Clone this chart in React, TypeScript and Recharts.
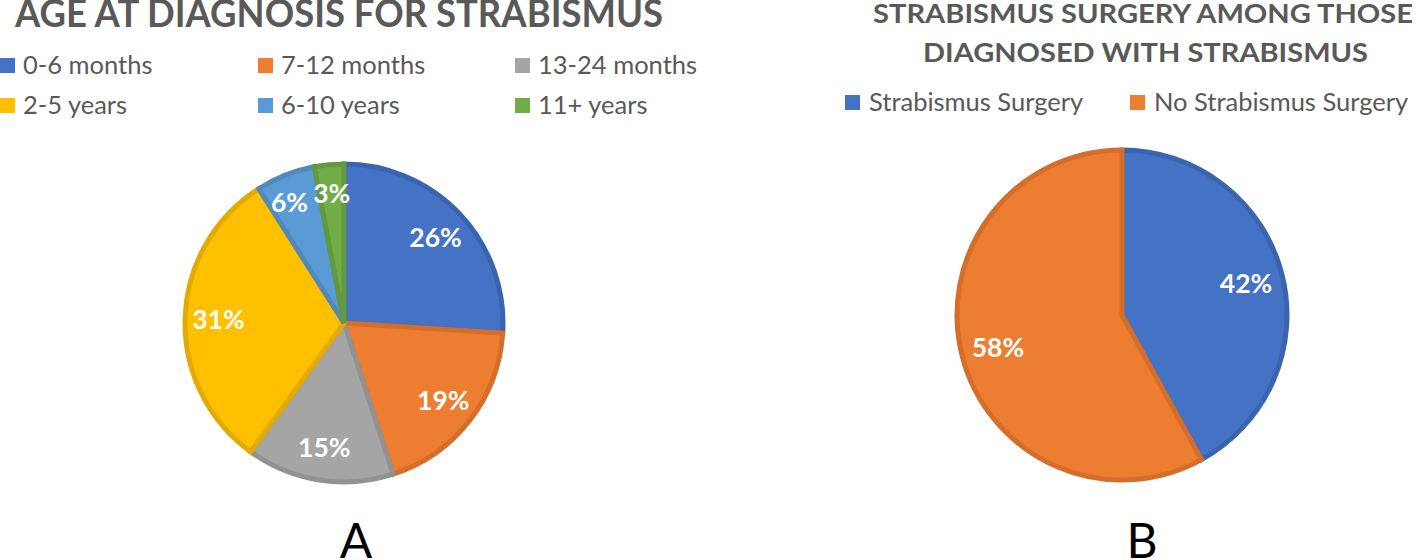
import React from "react";
import { PieChart, Pie, Cell, Legend } from "recharts";

// left chart: age at diagnosis
const ageCategories = [
  "0-6 months",
  "7-12 months",
  "13-24 months",
  "2-5 years",
  "6-10 years",
  "11+ years",
];
const ageValues = [26, 19, 15, 31, 6, 3];
const ageFills = ["#4472C4", "#ED7D31", "#A5A5A5", "#FFC000", "#5B9BD5", "#70AD47"];
const ageBorders = ["#3B64AE", "#D46E2A", "#929292", "#E3AB00", "#4F89BE", "#62993D"];

// right chart: surgery
const surgeryCategories = ["Strabismus Surgery", "No Strabismus Surgery"];
const surgeryValues = [42, 58];
const surgeryFills = ["#4472C4", "#ED7D31"];
const surgeryBorders = ["#3B64AE", "#D46E2A"];

const ageData = ageCategories.map((name, i) => ({ name, value: ageValues[i] }));
const surgeryData = surgeryCategories.map((name, i) => ({
  name,
  value: surgeryValues[i],
}));

const FONT = "Lato, 'Open Sans', sans-serif";
const GREY = "#595959";

function makeLabel(frac: number) {
  return (props: any) => {
    const RADIAN = Math.PI / 180;
    const cx = Number(props.cx) || 0;
    const cy = Number(props.cy) || 0;
    const small = props.percent < 0.1;
    const r = (Number(props.outerRadius) || 0) * (small ? frac + 0.03 : frac);
    let x = cx + r * Math.cos(-props.midAngle * RADIAN);
    const y = cy + r * Math.sin(-props.midAngle * RADIAN);
    let anchor: "middle" | "end" = "middle";
    // thin slices on the left: push label outward so it clears its neighbour
    if (small && x - cx < -30) {
      anchor = "end";
      x += 12;
    }
    return (
      <text
        x={x}
        y={y}
        fill="#ffffff"
        textAnchor={anchor}
        dominantBaseline="central"
        style={{ fontFamily: FONT, fontWeight: 700, fontSize: 26.5 }}
      >
        {Math.round(props.percent * 100)}%
      </text>
    );
  };
}

const AgeLegend = () => {
  const cols = [0, 258, 515];
  const rows = [58, 98];
  return (
    <svg width={708} height={130}>
      {ageCategories.map((name, i) => {
        const x = cols[i % 3];
        const y = rows[Math.floor(i / 3)];
        return (
          <g key={name}>
            <rect x={x} y={y} width={15} height={15} fill={ageFills[i]} />
            <text
              x={x + 23}
              y={y + 16}
              fill={GREY}
              style={{ fontFamily: FONT, fontSize: 25.5 }}
            >
              {name}
            </text>
          </g>
        );
      })}
    </svg>
  );
};

const SurgeryLegend = () => {
  // relative to the right chart's left edge (708)
  const xs = [137, 422];
  return (
    <svg width={709} height={130}>
      {surgeryCategories.map((name, i) => (
        <g key={name}>
          <rect x={xs[i]} y={95} width={15} height={15} fill={surgeryFills[i]} />
          <text
            x={xs[i] + 24}
            y={111}
            fill={GREY}
            style={{ fontFamily: FONT, fontSize: 25.5 }}
          >
            {name}
          </text>
        </g>
      ))}
    </svg>
  );
};

export default function App() {
  return (
    <div
      style={{
        position: "absolute",
        left: 0,
        top: 0,
        width: 1417,
        height: 560,
        background: "#fff",
        overflow: "hidden",
      }}
    >
      <div style={{ position: "absolute", left: 0, top: 0 }}>
        <PieChart width={708} height={560} margin={{ top: 0, right: 0, bottom: 0, left: 0 }}>
          <Pie
            data={ageData}
            dataKey="value"
            nameKey="name"
            cx={344}
            cy={323}
            outerRadius={159}
            startAngle={90}
            endAngle={-270}
            label={makeLabel(0.79)}
            labelLine={false}
            isAnimationActive={false}
          >
            {ageData.map((d, i) => (
              <Cell key={d.name} fill={ageFills[i]} stroke={ageBorders[i]} strokeWidth={5} />
            ))}
          </Pie>
          <Legend
            content={() => <AgeLegend />}
            wrapperStyle={{ position: "absolute", top: 0, left: 0, width: 708, height: 130 }}
          />
        </PieChart>
      </div>

      <div style={{ position: "absolute", left: 708, top: 0 }}>
        <PieChart width={709} height={560} margin={{ top: 0, right: 0, bottom: 0, left: 0 }}>
          <Pie
            data={surgeryData}
            dataKey="value"
            nameKey="name"
            cx={414}
            cy={315}
            outerRadius={165}
            startAngle={90}
            endAngle={-270}
            label={makeLabel(0.776)}
            labelLine={false}
            isAnimationActive={false}
          >
            {surgeryData.map((d, i) => (
              <Cell key={d.name} fill={surgeryFills[i]} stroke={surgeryBorders[i]} strokeWidth={5} />
            ))}
          </Pie>
          <Legend
            content={() => <SurgeryLegend />}
            wrapperStyle={{ position: "absolute", top: 0, left: 0, width: 709, height: 130 }}
          />
        </PieChart>
      </div>

      {/* titles and panel letters */}
      <svg
        width={1417}
        height={560}
        style={{ position: "absolute", left: 0, top: 0, pointerEvents: "none" }}
      >
        <text
          x={15}
          y={27}
          fill={GREY}
          textLength={648}
          lengthAdjust="spacingAndGlyphs"
          style={{ fontFamily: FONT, fontWeight: 700, fontSize: 39 }}
        >
          AGE AT DIAGNOSIS FOR STRABISMUS
        </text>
        <text
          x={873}
          y={23}
          fill={GREY}
          textLength={540}
          lengthAdjust="spacingAndGlyphs"
          style={{ fontFamily: FONT, fontWeight: 700, fontSize: 26 }}
        >
          STRABISMUS SURGERY AMONG THOSE
        </text>
        <text
          x={923}
          y={62}
          fill={GREY}
          textLength={445}
          lengthAdjust="spacingAndGlyphs"
          style={{ fontFamily: FONT, fontWeight: 700, fontSize: 26 }}
        >
          DIAGNOSED WITH STRABISMUS
        </text>
        <text
          x={356}
          y={558}
          fill="#000"
          textAnchor="middle"
          style={{ fontFamily: FONT, fontSize: 48 }}
        >
          A
        </text>
        <text
          x={1142}
          y={558}
          fill="#000"
          textAnchor="middle"
          style={{ fontFamily: FONT, fontSize: 48 }}
        >
          B
        </text>
      </svg>
    </div>
  );
}
